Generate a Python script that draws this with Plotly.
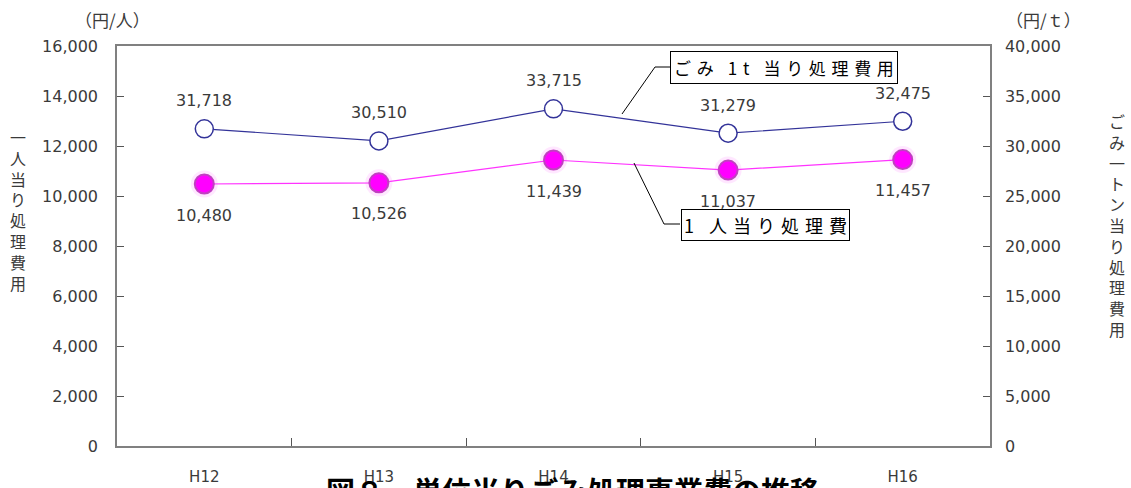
import plotly.graph_objects as go

categories = ["H12", "H13", "H14", "H15", "H16"]
per_person = [10480, 10526, 11439, 11037, 11457]      # 円/人 (left axis)
per_ton = [31718, 30510, 33715, 31279, 32475]         # 円/t (right axis)
left_ticks = [0, 2000, 4000, 6000, 8000, 10000, 12000, 14000, 16000]
right_ticks = [0, 5000, 10000, 15000, 20000, 25000, 30000, 35000, 40000]

NUM = "DejaVu Sans, Noto Sans CJK JP"
JP = "Noto Sans CJK JP"
TXT = "#3a3a3a"
x = list(range(len(categories)))

L, R, T, B, W, H = 117, 141, 46, 42, 1131, 488
pw, ph = W - L - R, H - T - B
def px(xp): return (xp - L) / pw
def py(yp): return (H - B - yp) / ph

fig = go.Figure()
# soft halo under the pink markers
fig.add_trace(go.Scatter(
    x=x, y=per_person, mode="markers", yaxis="y",
    marker=dict(size=27, color="rgba(255,120,255,0.18)", line=dict(width=0)),
    showlegend=False, hoverinfo="skip"))
fig.add_trace(go.Scatter(
    x=x, y=per_person, mode="lines+markers", yaxis="y",
    line=dict(color="#ff33ff", width=1.2),
    marker=dict(size=19, color="#ff00ff", line=dict(color="#c040c0", width=2)),
    showlegend=False, hoverinfo="skip"))
fig.add_trace(go.Scatter(
    x=x, y=per_ton, mode="lines+markers", yaxis="y2",
    line=dict(color="#333399", width=1.2),
    marker=dict(size=18, color="white", line=dict(color="#333399", width=1.5)),
    showlegend=False, hoverinfo="skip"))
# invisible trace so the category-label axis is drawn
fig.add_trace(go.Scatter(x=x, y=per_person, xaxis="x2", yaxis="y", mode="markers",
                         marker=dict(opacity=0), showlegend=False, hoverinfo="skip"))

ann = []
for i, v in enumerate(per_person):
    ann.append(dict(x=i, y=v, xref="x", yref="y", text=f"{v:,}", showarrow=False,
                    yshift=-31, font=dict(family=NUM, size=16, color=TXT)))
for i, v in enumerate(per_ton):
    ann.append(dict(x=i, y=v, xref="x", yref="y2", text=f"{v:,}", showarrow=False,
                    yshift=28, font=dict(family=NUM, size=16, color=TXT)))

# unit labels
ann.append(dict(x=px(112), y=py(19), xref="paper", yref="paper", text="（円/人）", showarrow=False,
                xanchor="center", yanchor="middle", font=dict(family=JP, size=17, color=TXT)))
ann.append(dict(x=px(1043), y=py(19), xref="paper", yref="paper", text="（円/ｔ）", showarrow=False,
                xanchor="center", yanchor="middle", font=dict(family=JP, size=17, color=TXT)))
# vertical axis titles
ann.append(dict(x=px(18), y=py(210), xref="paper", yref="paper", text="<br>".join("一人当り処理費用"),
                showarrow=False, xanchor="center", yanchor="middle",
                font=dict(family=JP, size=16, color=TXT)))
ann.append(dict(x=px(1117), y=py(225), xref="paper", yref="paper", text="<br>".join("ごみ一トン当り処理費用"),
                showarrow=False, xanchor="center", yanchor="middle",
                font=dict(family=JP, size=16, color=TXT)))
# callout boxes (letter-spaced like the source)
S = "\u2004"
BIG = "\u2002\u2004"
box1 = S.join("ごみ") + BIG + "1" + S + "t" + BIG + S.join("当り処理費用")
box2 = "1" + BIG + S.join("人当り処理費")
ann.append(dict(x=px(784), y=py(67), xref="paper", yref="paper", text=box1,
                showarrow=False, xanchor="center", yanchor="middle",
                font=dict(family=JP, size=17, color="black"),
                bordercolor="black", borderwidth=1, borderpad=3, bgcolor="white"))
ann.append(dict(x=px(765), y=py(225), xref="paper", yref="paper", text=box2,
                showarrow=False, xanchor="center", yanchor="middle",
                font=dict(family=JP, size=18, color="black"),
                bordercolor="black", borderwidth=1, borderpad=2, bgcolor="white"))
# bottom figure title (cut off at the page edge, as in the source)
ann.append(dict(x=px(572), y=py(490), xref="paper", yref="paper",
                text="<b>図８　単位当りごみ処理事業費の推移</b>",
                showarrow=False, xanchor="center", yanchor="middle",
                font=dict(family=JP, size=29, color="black")))

shapes = [
    dict(type="path", xref="paper", yref="paper",
         path=f"M {px(672)} {py(67)} L {px(655)} {py(67)} L {px(622)} {py(114)}",
         line=dict(color="black", width=1)),
    dict(type="path", xref="paper", yref="paper",
         path=f"M {px(680)} {py(224)} L {px(664)} {py(224)} L {px(634)} {py(163)}",
         line=dict(color="black", width=1)),
]

fig.update_layout(
    width=W, height=H, margin=dict(l=L, r=R, t=T, b=B, autoexpand=False),
    paper_bgcolor="white", plot_bgcolor="white",
    annotations=ann, shapes=shapes,
    xaxis=dict(range=[-0.5, 4.5], tickvals=[0.5, 1.5, 2.5, 3.5], ticktext=["", "", "", ""],
               ticks="inside", ticklen=8, tickcolor="#555555", showgrid=False, zeroline=False,
               showline=True, linecolor="#808080", linewidth=1.5, mirror=True, automargin=False),
    xaxis2=dict(overlaying="x", range=[-0.5, 4.5], side="bottom", tickvals=x, ticktext=categories,
                ticks="", showgrid=False, zeroline=False, showline=False, ticklabelstandoff=20,
                automargin=False, tickfont=dict(family=NUM, size=15, color=TXT)),
    yaxis=dict(range=[0, 16000], tickvals=left_ticks, tickformat=",d", ticks="inside", ticklen=7,
               tickcolor="#555555", showgrid=False, zeroline=False, showline=True,
               linecolor="#808080", linewidth=1.5, ticklabelstandoff=14, automargin=False,
               tickfont=dict(family=NUM, size=16, color=TXT)),
    yaxis2=dict(range=[0, 40000], tickvals=right_ticks, tickformat=",d", overlaying="y", side="right",
                ticks="inside", ticklen=7, tickcolor="#555555", showgrid=False, zeroline=False,
                showline=True, linecolor="#808080", linewidth=1.5, ticklabelstandoff=10,
                automargin=False, tickfont=dict(family=NUM, size=16, color=TXT)),
)
fig.write_html("out.html")
